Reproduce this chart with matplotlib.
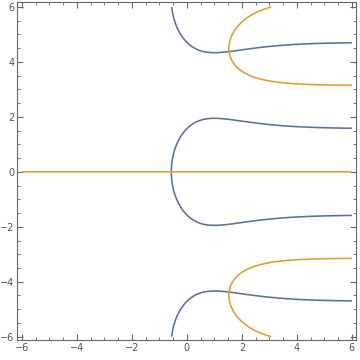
import numpy as np
import matplotlib
matplotlib.use("Agg")
import matplotlib.pyplot as plt

# Plot range and contour levels (Re f = 0, Im f = 0 for f(z) = e^z + z)
x_range = [-6, 6]
y_range = [-6, 6]
levels = [0]
major_ticks = [-6, -4, -2, 0, 2, 4, 6]
tick_labels = ["\u22126", "\u22124", "\u22122", "0", "2", "4", "6"]

blue = "#5B7199"
orange = "#DDA02C"
frame_col = "#666666"

x = np.linspace(x_range[0], x_range[1], 1200)
y = np.linspace(y_range[0], y_range[1], 1200)
X, Y = np.meshgrid(x, y)
Z = np.exp(X + 1j * Y) + (X + 1j * Y)

fig = plt.figure(figsize=(3.6, 3.6), dpi=100)
ax = fig.add_axes([17/360, 20/360, 339/360, 338/360])

ax.contour(X, Y, Z.real, levels=levels, colors=[blue], linewidths=1.15)
ax.contour(X, Y, Z.imag, levels=levels, colors=[orange], linewidths=1.15)

ax.set_xlim(-6.18, 6.15)
ax.set_ylim(-6.12, 6.18)
ax.set_xticks(major_ticks)
ax.set_yticks(major_ticks)
ax.set_xticklabels(tick_labels)
ax.set_yticklabels(tick_labels)
ax.set_xticks(np.arange(-6, 6.01, 0.5), minor=True)
ax.set_yticks(np.arange(-6, 6.01, 0.5), minor=True)
ax.tick_params(which="both", direction="in", top=True, right=True,
               color=frame_col, labelcolor="#555555", labelsize=7, pad=2)
ax.tick_params(which="major", length=4, width=0.8)
ax.tick_params(which="minor", length=2.5, width=0.6)
for s in ax.spines.values():
    s.set_color(frame_col)
    s.set_linewidth(0.8)

fig.savefig("out.png", dpi=100)
